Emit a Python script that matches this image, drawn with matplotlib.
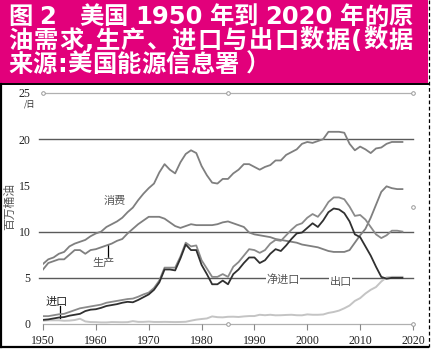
"""
Fig. 2 - US crude oil demand, production, imports and exports, 1950-2018.
Saves out.png (432x351 px).
"""

import re

import matplotlib.pyplot as plt
from matplotlib.lines import Line2D
from matplotlib.patches import Rectangle

plt.rcParams["font.family"] = ["Noto Sans CJK SC", "DejaVu Sans"]

# ── Data (million barrels / day) ──────────────────────────────────────────────
YEARS = list(range(1950, 2019))

CONSUMPTION = [
    6.5, 7.0, 7.2, 7.6, 7.8, 8.4, 8.7, 8.9, 9.1, 9.5,
    9.8, 10.0, 10.5, 10.8, 11.1, 11.5, 12.1, 12.6, 13.4, 14.1,
    14.7, 15.2, 16.4, 17.3, 16.7, 16.3, 17.5, 18.4, 18.8, 18.5,
    17.1, 16.1, 15.3, 15.2, 15.7, 15.7, 16.3, 16.7, 17.3, 17.3,
    17.0, 16.7, 17.0, 17.2, 17.7, 17.7, 18.3, 18.6, 18.9, 19.5,
    19.7, 19.6, 19.8, 20.0, 20.8, 20.8, 20.8, 20.7, 19.5, 18.8,
    19.2, 18.9, 18.5, 19.0, 19.1, 19.5, 19.7, 19.7, 19.7,
]
PRODUCTION = [
    5.9, 6.6, 6.8, 7.0, 7.0, 7.5, 8.0, 8.0, 7.6, 8.0,
    8.1, 8.3, 8.5, 8.7, 9.0, 9.2, 9.8, 10.3, 10.8, 11.2,
    11.6, 11.6, 11.6, 11.4, 11.0, 10.6, 10.4, 10.6, 10.8, 10.7,
    10.7, 10.7, 10.7, 10.8, 11.0, 11.1, 10.9, 10.7, 10.5, 9.9,
    9.7, 9.6, 9.5, 9.4, 9.2, 9.1, 9.0, 8.9, 8.8, 8.6,
    8.5, 8.4, 8.3, 8.1, 7.9, 7.8, 7.8, 7.8, 8.0, 8.8,
    9.6, 10.3, 11.5, 12.9, 14.3, 14.9, 14.7, 14.6, 14.6,
]
IMPORTS = [
    0.85, 0.85, 0.95, 1.05, 1.1, 1.3, 1.5, 1.7, 1.8, 1.9,
    2.0, 2.1, 2.3, 2.4, 2.5, 2.6, 2.7, 2.75, 2.95, 3.2,
    3.4, 3.9, 4.7, 6.1, 6.1, 6.1, 7.3, 8.8, 8.4, 8.5,
    6.9, 6.0, 5.1, 5.1, 5.4, 5.1, 6.2, 6.7, 7.4, 8.1,
    8.0, 7.7, 8.0, 8.7, 9.1, 9.0, 9.6, 10.2, 10.7, 10.9,
    11.5, 11.9, 11.6, 12.3, 13.2, 13.7, 13.7, 13.5, 12.7, 11.7,
    11.8, 11.3, 10.5, 9.7, 9.3, 9.6, 10.1, 10.1, 10.0,
]
NET_IMPORTS = [
    0.45, 0.5, 0.6, 0.7, 0.75, 0.9, 1.0, 1.1, 1.4, 1.55,
    1.6, 1.75, 1.95, 2.05, 2.15, 2.3, 2.4, 2.35, 2.6, 2.9,
    3.2, 3.7, 4.5, 5.9, 5.9, 5.8, 7.1, 8.6, 8.0, 8.0,
    6.4, 5.4, 4.3, 4.3, 4.7, 4.3, 5.4, 5.9, 6.6, 7.2,
    7.2, 6.6, 6.9, 7.6, 8.1, 7.9, 8.5, 9.2, 9.8, 9.9,
    10.4, 10.9, 10.5, 11.2, 12.1, 12.5, 12.4, 12.0, 11.1, 9.7,
    9.4, 8.4, 7.4, 6.2, 5.1, 4.9, 5.0, 5.0, 5.0,
]
EXPORTS = [
    0.35, 0.4, 0.4, 0.4, 0.35, 0.37, 0.43, 0.57, 0.28, 0.21,
    0.2, 0.17, 0.17, 0.21, 0.2, 0.19, 0.2, 0.31, 0.23, 0.23,
    0.26, 0.22, 0.22, 0.23, 0.22, 0.21, 0.22, 0.24, 0.36, 0.47,
    0.54, 0.6, 0.82, 0.74, 0.72, 0.78, 0.79, 0.76, 0.82, 0.86,
    0.86, 1.0, 0.95, 1.0, 0.94, 0.95, 0.98, 1.0, 0.95, 0.94,
    1.04, 1.0, 1.0, 1.03, 1.2, 1.3, 1.45, 1.7, 2.0, 2.5,
    2.8, 3.3, 3.7, 4.0, 4.6, 5.05, 5.1, 5.1, 5.1,
]

X_TICKS = [1950, 1960, 1970, 1980, 1990, 2000, 2010, 2020]
Y_TICKS = [0, 5, 10, 15, 20, 25]
GRID_DARK = [5, 10, 20]

TITLE_LINES = [
    "图 2　美国 1950 年到 2020 年的原",
    "油需求,生产、进口与出口数据(数据",
    "来源:美国能源信息署 ）",
]
TITLE_RIGHT = [413, 413, 270]      # right edge of each title line, px

# ── Style ─────────────────────────────────────────────────────────────────────
W, H = 432, 351
MAGENTA = "#E2007B"
C_MID   = "#7f7f7f"
C_DARK  = "#303030"
C_LIGHT = "#c4c4c4"
C_GRID  = "#5a5a5a"
TITLE_KW = dict(color="white", fontsize=17.5, fontweight="bold", va="center",
                ha="left", family=["DejaVu Sans", "Noto Sans CJK SC"])

fig = plt.figure(figsize=(W / 100, H / 100), dpi=100)
renderer = fig.canvas.get_renderer()

def fx(px): return px / W
def fy(py): return 1 - py / H


def spread_line(txt, x0, x1, yc):
    """Title line with its pieces tracked out to span x0..x1 (px).
    Digit runs stay together; everything else is placed glyph by glyph."""
    em = TITLE_KW["fontsize"] * 100 / 72
    tokens = re.findall(r"\d+|.", txt)
    widths = []
    for tok in tokens:
        if tok == " ":
            widths.append(0.25 * em); continue
        if tok == "\u3000":
            widths.append(0.9 * em); continue
        t = fig.text(0, 0, tok, **TITLE_KW)
        widths.append(t.get_window_extent(renderer).width)
        t.remove()
    gap = (x1 - x0 - sum(widths)) / (len(tokens) - 1)
    x = x0
    for tok, w in zip(tokens, widths):
        if tok.strip():
            fig.text(fx(x), fy(yc), tok, **TITLE_KW)
        x += w + gap


# header band + frame
fig.patches.append(Rectangle((0, fy(83)), fx(428), 83 / H, transform=fig.transFigure,
                             facecolor=MAGENTA, edgecolor="none", zorder=0))
fig.add_artist(Line2D([fx(1), fx(1)], [fy(84), fy(347)], color="black", lw=1.6))
fig.add_artist(Line2D([0, fx(428)], [fy(84), fy(84)], color="black", lw=1.4))
fig.add_artist(Line2D([0, fx(428)], [fy(347), fy(347)], color="black", lw=1.6))
fig.add_artist(Line2D([fx(429), fx(429)], [fy(0), fy(347)], color="black", lw=0.9,
                      ls=(0, (3, 2))))

for i, line in enumerate(TITLE_LINES):
    spread_line(line, 8, TITLE_RIGHT[i], 17.5 + 23.5 * i)

# ── Plot ──────────────────────────────────────────────────────────────────────
ax = fig.add_axes([fx(43), fy(324), fx(413) - fx(43), (324 - 93) / H])
ax.set_xlim(1950, 2020)
ax.set_ylim(0, 25)
for s in ax.spines.values():
    s.set_visible(False)

for g in GRID_DARK:
    ax.plot([1949.2, 2020], [g, g], color=C_GRID, lw=1.0, clip_on=False, zorder=1)
for g in (0, 25):
    ax.plot([1950, 2020], [g, g], color="#b0b0b0", lw=0.9, clip_on=False, zorder=1)
# leftover selection handles of the pasted chart
ax.plot([1950, 1985, 2020, 1985, 2020, 2020], [25, 25, 25, 0, 0, 12.7], "o",
        ms=2.6, mfc="white", mec="#999999", mew=0.7, clip_on=False, zorder=2)

ax.plot(YEARS, EXPORTS, color=C_LIGHT, lw=1.4, zorder=3)
ax.plot(YEARS, CONSUMPTION, color=C_MID, lw=1.3, zorder=4)
ax.plot(YEARS, PRODUCTION, color=C_MID, lw=1.3, zorder=4)
ax.plot(YEARS, IMPORTS, color="#8a8a8a", lw=1.3, zorder=4)
ax.plot(YEARS, NET_IMPORTS, color=C_DARK, lw=1.3, zorder=5)

ax.set_xticks(X_TICKS, [str(x) for x in X_TICKS])
ax.set_yticks(Y_TICKS, [str(y) for y in Y_TICKS])
ax.tick_params(axis="x", length=4, width=0.8, color="#888888", direction="out",
               labelsize=8.5, labelcolor="#222222", pad=4)
ax.tick_params(axis="y", length=0, labelsize=8.5, labelcolor="#222222", pad=9)
for lab in ax.get_xticklabels() + ax.get_yticklabels():
    lab.set_family("Liberation Serif")

# series labels
LBL = dict(color="#555555", fontsize=8, ha="center", va="center")
ax.text(1963.6, 13.3, "消费", **LBL)
ax.text(1961.4, 6.6, "生产", **LBL)
ax.plot([1962.3, 1962.3], [8.5, 7.3], color="black", lw=0.9)
ax.text(1952.6, 2.4, "进口", color="#222222", fontsize=8, ha="center", va="center")
ax.plot([1953.3, 1953.3], [1.9, 0.7], color="black", lw=0.9)
box = dict(facecolor="white", edgecolor="none", pad=0.5)
ax.text(1995.4, 4.85, "净进口", bbox=box, zorder=6, **LBL)
ax.text(2006.3, 4.5, "出口", bbox=box, zorder=6, **LBL)

fig.text(fx(10), fy(207), "百万桶油", rotation=90, color="#555555", fontsize=8.5,
         ha="center", va="center")
fig.text(fx(30), fy(104), "/日", color="#333333", fontsize=6, ha="center", va="center")

fig.savefig("out.png", dpi=100)
